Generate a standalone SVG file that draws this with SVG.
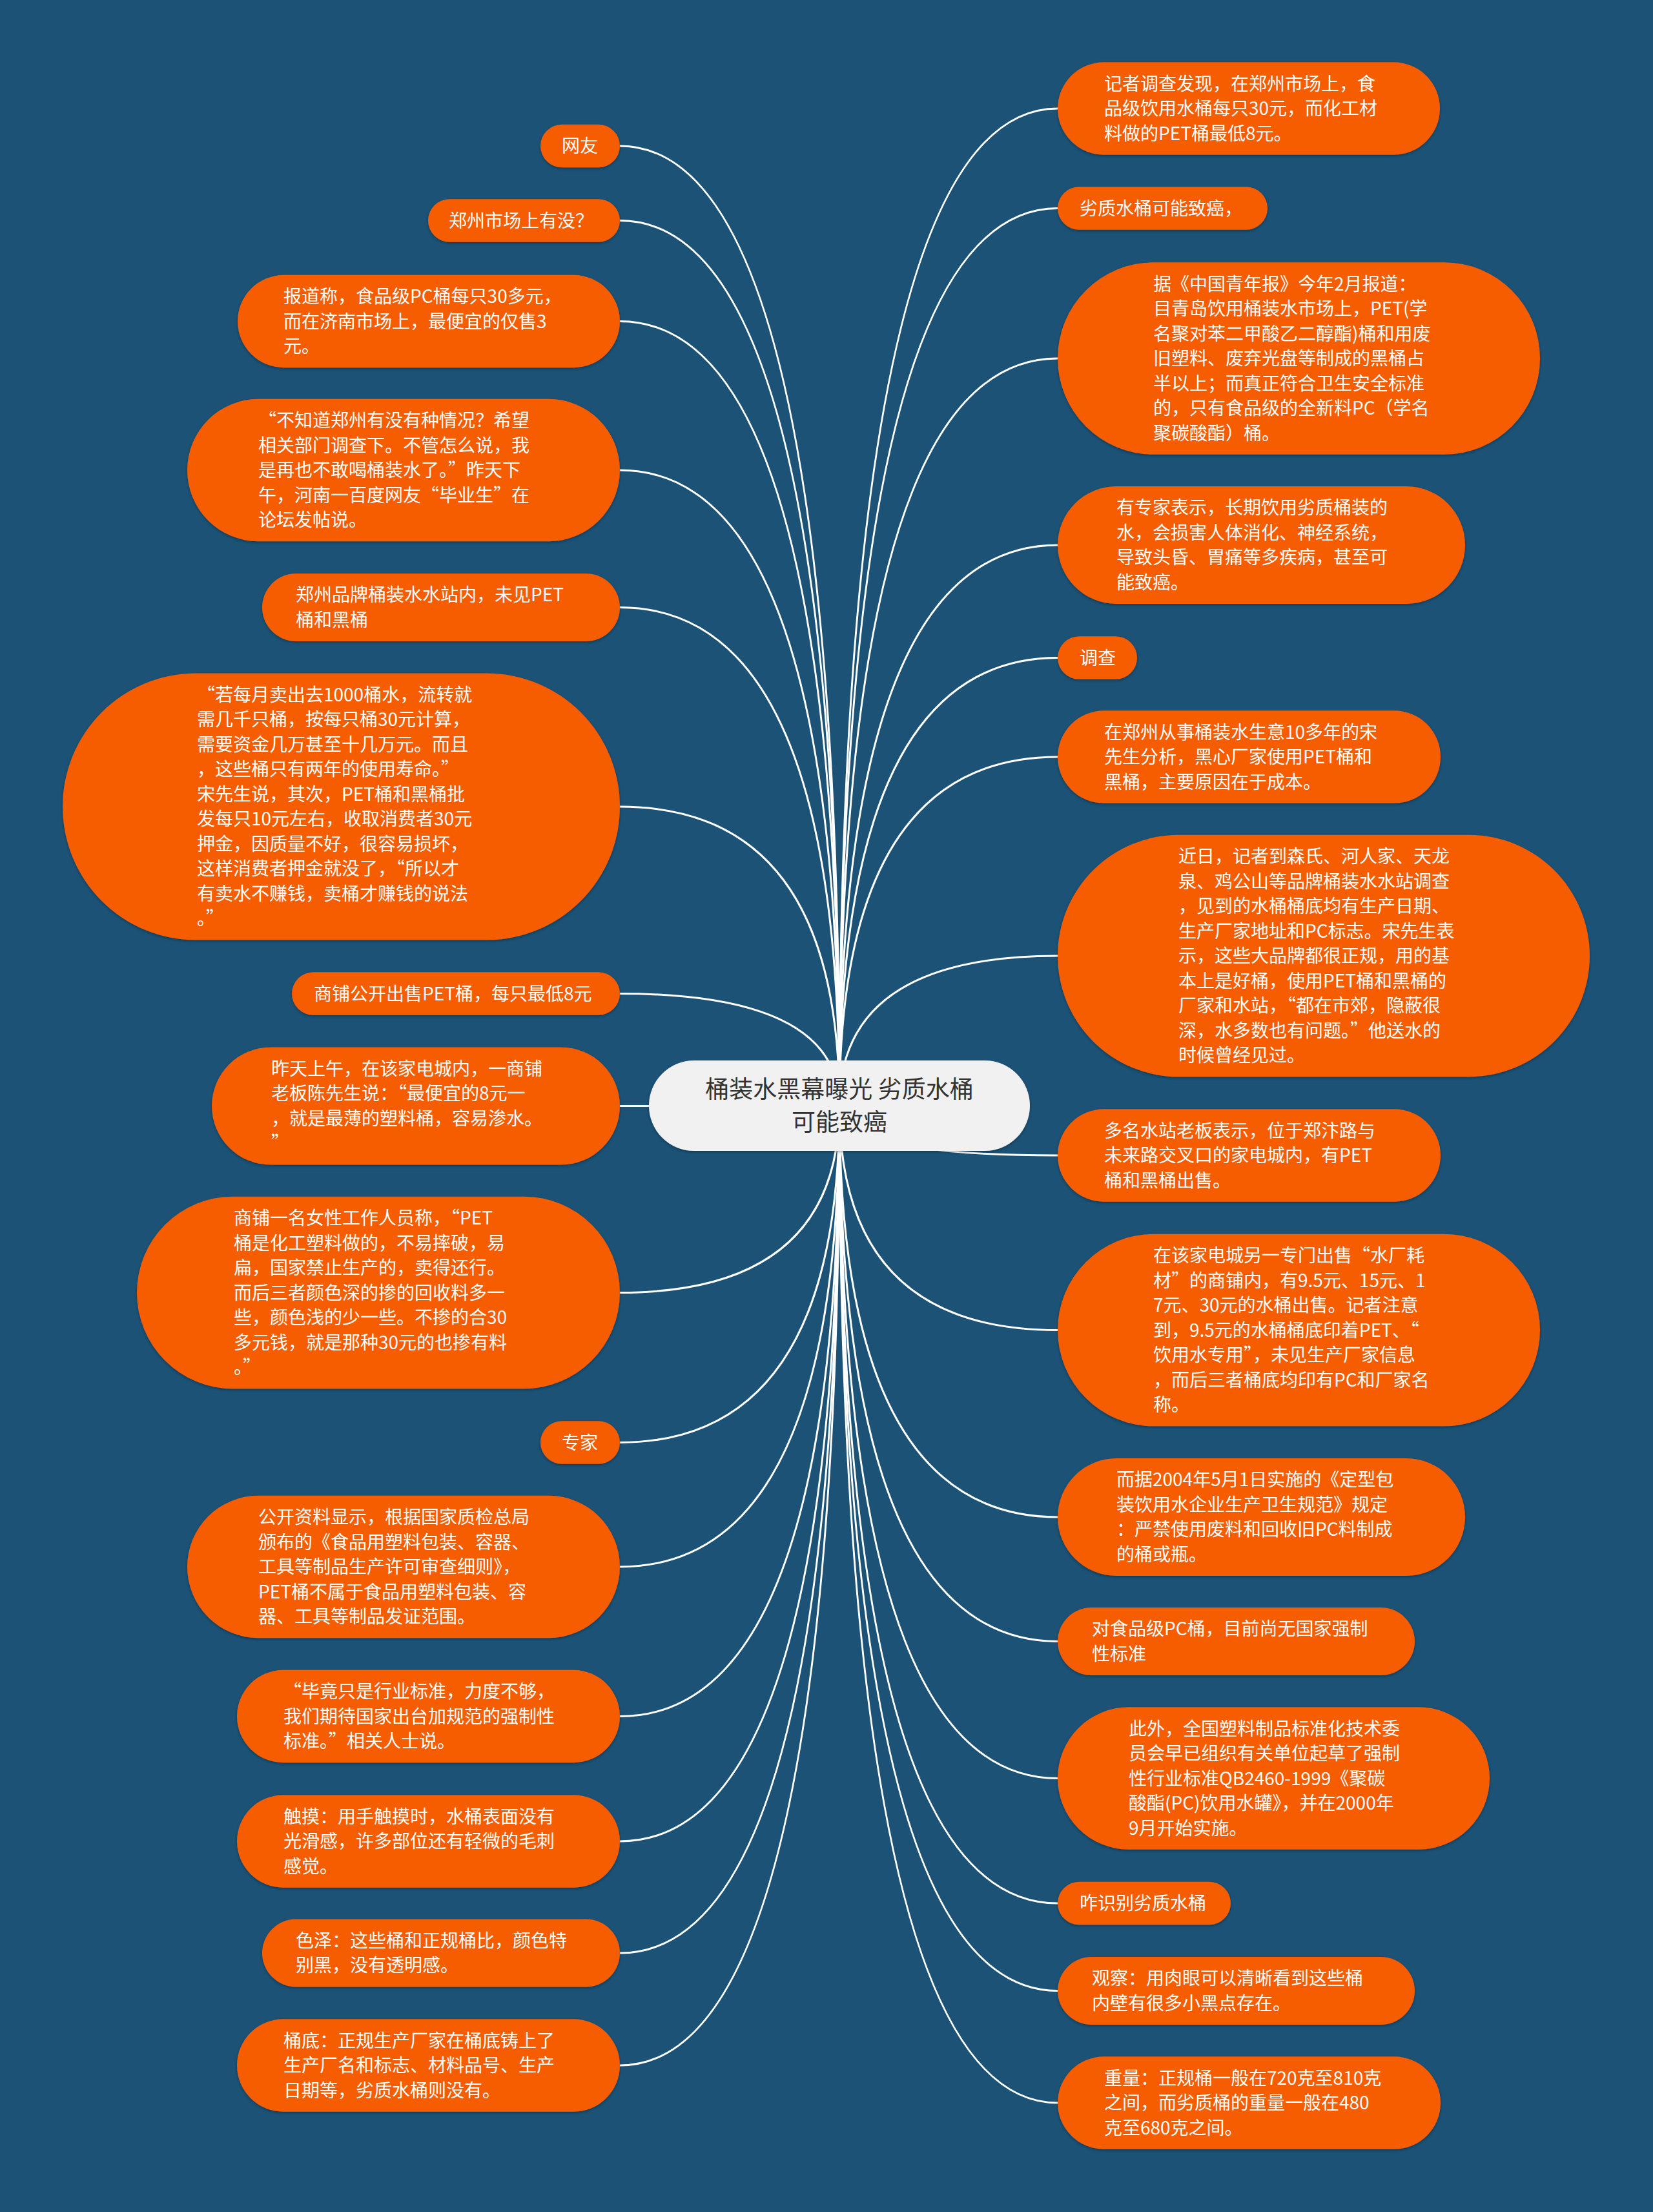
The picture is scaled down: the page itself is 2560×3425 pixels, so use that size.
<svg xmlns="http://www.w3.org/2000/svg" width="2560" height="3425" viewBox="0 0 2560 3425">
<defs>
<filter id="sh" x="-10%" y="-20%" width="120%" height="140%"><feDropShadow dx="0" dy="2" stdDeviation="2" flood-color="#000" flood-opacity="0.3"/></filter>
<style>
.n{fill:#f65c05;filter:url(#sh)}
.r{fill:#f1f1f1;filter:url(#sh)}
.t{font-family:"Noto Sans CJK SC","Microsoft YaHei",sans-serif;font-size:28px;fill:#ffffff}
.rt{font-family:"Noto Sans CJK SC","Microsoft YaHei",sans-serif;font-size:37px;fill:#333333;text-anchor:middle}
.c{fill:none;stroke:#ffffff;stroke-width:3}
</style>
</defs>
<rect width="2560" height="3425" fill="#1b5276"/>
<g id="connectors">
<path class="c" d="M1300 1712 Q1300 226 960 226"/>
<path class="c" d="M1300 1712 Q1300 341.5 960 341.5"/>
<path class="c" d="M1300 1712 Q1300 497.5 960 497.5"/>
<path class="c" d="M1300 1712 Q1300 728 960 728"/>
<path class="c" d="M1300 1712 Q1300 940.5 960 940.5"/>
<path class="c" d="M1300 1712 Q1300 1249 960 1249"/>
<path class="c" d="M1300 1712 Q1300 1538.5 960 1538.5"/>
<path class="c" d="M1300 1712 Q1300 1712.5 960 1712.5"/>
<path class="c" d="M1300 1712 Q1300 2001.5 960 2001.5"/>
<path class="c" d="M1300 1712 Q1300 2233.5 960 2233.5"/>
<path class="c" d="M1300 1712 Q1300 2426 960 2426"/>
<path class="c" d="M1300 1712 Q1300 2657.5 960 2657.5"/>
<path class="c" d="M1300 1712 Q1300 2851 960 2851"/>
<path class="c" d="M1300 1712 Q1300 3024 960 3024"/>
<path class="c" d="M1300 1712 Q1300 3198 960 3198"/>
<path class="c" d="M1300 1712 Q1300 168 1638 168"/>
<path class="c" d="M1300 1712 Q1300 322.5 1638 322.5"/>
<path class="c" d="M1300 1712 Q1300 555 1638 555"/>
<path class="c" d="M1300 1712 Q1300 844 1638 844"/>
<path class="c" d="M1300 1712 Q1300 1018.5 1638 1018.5"/>
<path class="c" d="M1300 1712 Q1300 1172 1638 1172"/>
<path class="c" d="M1300 1712 Q1300 1480 1638 1480"/>
<path class="c" d="M1300 1712 Q1300 1789 1638 1789"/>
<path class="c" d="M1300 1712 Q1300 2059.5 1638 2059.5"/>
<path class="c" d="M1300 1712 Q1300 2349 1638 2349"/>
<path class="c" d="M1300 1712 Q1300 2541.5 1638 2541.5"/>
<path class="c" d="M1300 1712 Q1300 2753.5 1638 2753.5"/>
<path class="c" d="M1300 1712 Q1300 2947 1638 2947"/>
<path class="c" d="M1300 1712 Q1300 3082.5 1638 3082.5"/>
<path class="c" d="M1300 1712 Q1300 3256 1638 3256"/>
</g>

<g id="l1"><rect class="n" x="837" y="192.75" width="123" height="66.5" rx="33.25"/>
<text class="t"><tspan x="870" y="236">网友</tspan></text></g>
<g id="l2"><rect class="n" x="663" y="308.25" width="297" height="66.5" rx="33.25"/>
<text class="t"><tspan x="695" y="351.5">郑州市场上有没？</tspan></text></g>
<g id="l3"><rect class="n" x="368" y="425.75" width="592" height="143.5" rx="71.75"/>
<text class="t"><tspan x="439" y="469">报道称，食品级PC桶每只30多元，</tspan><tspan x="439" y="507.5">而在济南市场上，最便宜的仅售3</tspan><tspan x="439" y="546">元。</tspan></text></g>
<g id="l4"><rect class="n" x="290" y="617.75" width="670" height="220.5" rx="110.25"/>
<text class="t"><tspan x="400" y="661">“不知道郑州有没有种情况？希望</tspan><tspan x="400" y="699.5">相关部门调查下。不管怎么说，我</tspan><tspan x="400" y="738">是再也不敢喝桶装水了。”昨天下</tspan><tspan x="400" y="776.5">午，河南一百度网友“毕业生”在</tspan><tspan x="400" y="815">论坛发帖说。</tspan></text></g>
<g id="l5"><rect class="n" x="406" y="888" width="554" height="105" rx="52.5"/>
<text class="t"><tspan x="458" y="931.25">郑州品牌桶装水水站内，未见PET</tspan><tspan x="458" y="969.75">桶和黑桶</tspan></text></g>
<g id="l6"><rect class="n" x="97" y="1042.5" width="863" height="413" rx="206.5"/>
<text class="t"><tspan x="305" y="1085.75">“若每月卖出去1000桶水，流转就</tspan><tspan x="305" y="1124.25">需几千只桶，按每只桶30元计算，</tspan><tspan x="305" y="1162.75">需要资金几万甚至十几万元。而且</tspan><tspan x="305" y="1201.25">，这些桶只有两年的使用寿命。”</tspan><tspan x="305" y="1239.75">宋先生说，其次，PET桶和黑桶批</tspan><tspan x="305" y="1278.25">发每只10元左右，收取消费者30元</tspan><tspan x="305" y="1316.75">押金，因质量不好，很容易损坏，</tspan><tspan x="305" y="1355.25">这样消费者押金就没了，“所以才</tspan><tspan x="305" y="1393.75">有卖水不赚钱，卖桶才赚钱的说法</tspan><tspan x="305" y="1432.25">。”</tspan></text></g>
<g id="l7"><rect class="n" x="452" y="1505.25" width="508" height="66.5" rx="33.25"/>
<text class="t"><tspan x="486" y="1548.5">商铺公开出售PET桶，每只最低8元</tspan></text></g>
<g id="l8"><rect class="n" x="328" y="1621.5" width="632" height="182" rx="91"/>
<text class="t"><tspan x="420" y="1664.75">昨天上午，在该家电城内，一商铺</tspan><tspan x="420" y="1703.25">老板陈先生说：“最便宜的8元一</tspan><tspan x="420" y="1741.75">，就是最薄的塑料桶，容易渗水。</tspan><tspan x="420" y="1780.25">”</tspan></text></g>
<g id="l9"><rect class="n" x="212" y="1852.75" width="748" height="297.5" rx="148.75"/>
<text class="t"><tspan x="362" y="1896">商铺一名女性工作人员称，“PET</tspan><tspan x="362" y="1934.5">桶是化工塑料做的，不易摔破，易</tspan><tspan x="362" y="1973">扁，国家禁止生产的，卖得还行。</tspan><tspan x="362" y="2011.5">而后三者颜色深的掺的回收料多一</tspan><tspan x="362" y="2050">些，颜色浅的少一些。不掺的合30</tspan><tspan x="362" y="2088.5">多元钱，就是那种30元的也掺有料</tspan><tspan x="362" y="2127">。”</tspan></text></g>
<g id="l10"><rect class="n" x="837" y="2200.25" width="123" height="66.5" rx="33.25"/>
<text class="t"><tspan x="870" y="2243.5">专家</tspan></text></g>
<g id="l11"><rect class="n" x="290" y="2315.75" width="670" height="220.5" rx="110.25"/>
<text class="t"><tspan x="400" y="2359">公开资料显示，根据国家质检总局</tspan><tspan x="400" y="2397.5">颁布的《食品用塑料包装、容器、</tspan><tspan x="400" y="2436">工具等制品生产许可审查细则》，</tspan><tspan x="400" y="2474.5">PET桶不属于食品用塑料包装、容</tspan><tspan x="400" y="2513">器、工具等制品发证范围。</tspan></text></g>
<g id="l12"><rect class="n" x="367" y="2585.75" width="593" height="143.5" rx="71.75"/>
<text class="t"><tspan x="439" y="2629">“毕竟只是行业标准，力度不够，</tspan><tspan x="439" y="2667.5">我们期待国家出台加规范的强制性</tspan><tspan x="439" y="2706">标准。”相关人士说。</tspan></text></g>
<g id="l13"><rect class="n" x="367" y="2779.25" width="593" height="143.5" rx="71.75"/>
<text class="t"><tspan x="439" y="2822.5">触摸：用手触摸时，水桶表面没有</tspan><tspan x="439" y="2861">光滑感，许多部位还有轻微的毛刺</tspan><tspan x="439" y="2899.5">感觉。</tspan></text></g>
<g id="l14"><rect class="n" x="406" y="2971.5" width="554" height="105" rx="52.5"/>
<text class="t"><tspan x="458" y="3014.75">色泽：这些桶和正规桶比，颜色特</tspan><tspan x="458" y="3053.25">别黑，没有透明感。</tspan></text></g>
<g id="l15"><rect class="n" x="367" y="3126.25" width="593" height="143.5" rx="71.75"/>
<text class="t"><tspan x="439" y="3169.5">桶底：正规生产厂家在桶底铸上了</tspan><tspan x="439" y="3208">生产厂名和标志、材料品号、生产</tspan><tspan x="439" y="3246.5">日期等，劣质水桶则没有。</tspan></text></g>

<g id="r1"><rect class="n" x="1638" y="96.25" width="592" height="143.5" rx="71.75"/>
<text class="t"><tspan x="1710" y="139.5">记者调查发现，在郑州市场上，食</tspan><tspan x="1710" y="178">品级饮用水桶每只30元，而化工材</tspan><tspan x="1710" y="216.5">料做的PET桶最低8元。</tspan></text></g>
<g id="r2"><rect class="n" x="1638" y="289.25" width="325" height="66.5" rx="33.25"/>
<text class="t"><tspan x="1672" y="332.5">劣质水桶可能致癌，</tspan></text></g>
<g id="r3"><rect class="n" x="1638" y="406.25" width="747" height="297.5" rx="148.75"/>
<text class="t"><tspan x="1786" y="449.5">据《中国青年报》今年2月报道：</tspan><tspan x="1786" y="488">目青岛饮用桶装水市场上，PET(学</tspan><tspan x="1786" y="526.5">名聚对苯二甲酸乙二醇酯)桶和用废</tspan><tspan x="1786" y="565">旧塑料、废弃光盘等制成的黑桶占</tspan><tspan x="1786" y="603.5">半以上；而真正符合卫生安全标准</tspan><tspan x="1786" y="642">的，只有食品级的全新料PC（学名</tspan><tspan x="1786" y="680.5">聚碳酸酯）桶。</tspan></text></g>
<g id="r4"><rect class="n" x="1638" y="753" width="631" height="182" rx="91"/>
<text class="t"><tspan x="1729" y="796.25">有专家表示，长期饮用劣质桶装的</tspan><tspan x="1729" y="834.75">水，会损害人体消化、神经系统，</tspan><tspan x="1729" y="873.25">导致头昏、胃痛等多疾病，甚至可</tspan><tspan x="1729" y="911.75">能致癌。</tspan></text></g>
<g id="r5"><rect class="n" x="1638" y="985.25" width="123" height="66.5" rx="33.25"/>
<text class="t"><tspan x="1672" y="1028.5">调查</tspan></text></g>
<g id="r6"><rect class="n" x="1638" y="1100.25" width="593" height="143.5" rx="71.75"/>
<text class="t"><tspan x="1710" y="1143.5">在郑州从事桶装水生意10多年的宋</tspan><tspan x="1710" y="1182">先生分析，黑心厂家使用PET桶和</tspan><tspan x="1710" y="1220.5">黑桶，主要原因在于成本。</tspan></text></g>
<g id="r7"><rect class="n" x="1638" y="1292.75" width="824" height="374.5" rx="187.25"/>
<text class="t"><tspan x="1825" y="1336">近日，记者到森氏、河人家、天龙</tspan><tspan x="1825" y="1374.5">泉、鸡公山等品牌桶装水水站调查</tspan><tspan x="1825" y="1413">，见到的水桶桶底均有生产日期、</tspan><tspan x="1825" y="1451.5">生产厂家地址和PC标志。宋先生表</tspan><tspan x="1825" y="1490">示，这些大品牌都很正规，用的基</tspan><tspan x="1825" y="1528.5">本上是好桶，使用PET桶和黑桶的</tspan><tspan x="1825" y="1567">厂家和水站，“都在市郊，隐蔽很</tspan><tspan x="1825" y="1605.5">深，水多数也有问题。”他送水的</tspan><tspan x="1825" y="1644">时候曾经见过。</tspan></text></g>
<g id="r8"><rect class="n" x="1638" y="1717.25" width="593" height="143.5" rx="71.75"/>
<text class="t"><tspan x="1710" y="1760.5">多名水站老板表示，位于郑汴路与</tspan><tspan x="1710" y="1799">未来路交叉口的家电城内，有PET</tspan><tspan x="1710" y="1837.5">桶和黑桶出售。</tspan></text></g>
<g id="r9"><rect class="n" x="1638" y="1910.75" width="747" height="297.5" rx="148.75"/>
<text class="t"><tspan x="1786" y="1954">在该家电城另一专门出售“水厂耗</tspan><tspan x="1786" y="1992.5">材”的商铺内，有9.5元、15元、1</tspan><tspan x="1786" y="2031">7元、30元的水桶出售。记者注意</tspan><tspan x="1786" y="2069.5">到，9.5元的水桶桶底印着PET、“</tspan><tspan x="1786" y="2108">饮用水专用”，未见生产厂家信息</tspan><tspan x="1786" y="2146.5">，而后三者桶底均印有PC和厂家名</tspan><tspan x="1786" y="2185">称。</tspan></text></g>
<g id="r10"><rect class="n" x="1638" y="2258" width="631" height="182" rx="91"/>
<text class="t"><tspan x="1729" y="2301.25">而据2004年5月1日实施的《定型包</tspan><tspan x="1729" y="2339.75">装饮用水企业生产卫生规范》规定</tspan><tspan x="1729" y="2378.25">：严禁使用废料和回收旧PC料制成</tspan><tspan x="1729" y="2416.75">的桶或瓶。</tspan></text></g>
<g id="r11"><rect class="n" x="1638" y="2489" width="553" height="105" rx="52.5"/>
<text class="t"><tspan x="1691" y="2532.25">对食品级PC桶，目前尚无国家强制</tspan><tspan x="1691" y="2570.75">性标准</tspan></text></g>
<g id="r12"><rect class="n" x="1638" y="2643.25" width="669" height="220.5" rx="110.25"/>
<text class="t"><tspan x="1748" y="2686.5">此外，全国塑料制品标准化技术委</tspan><tspan x="1748" y="2725">员会早已组织有关单位起草了强制</tspan><tspan x="1748" y="2763.5">性行业标准QB2460-1999《聚碳</tspan><tspan x="1748" y="2802">酸酯(PC)饮用水罐》，并在2000年</tspan><tspan x="1748" y="2840.5">9月开始实施。</tspan></text></g>
<g id="r13"><rect class="n" x="1638" y="2913.75" width="268" height="66.5" rx="33.25"/>
<text class="t"><tspan x="1672" y="2957">咋识别劣质水桶</tspan></text></g>
<g id="r14"><rect class="n" x="1638" y="3030" width="553" height="105" rx="52.5"/>
<text class="t"><tspan x="1691" y="3073.25">观察：用肉眼可以清晰看到这些桶</tspan><tspan x="1691" y="3111.75">内壁有很多小黑点存在。</tspan></text></g>
<g id="r15"><rect class="n" x="1638" y="3184.25" width="593" height="143.5" rx="71.75"/>
<text class="t"><tspan x="1710" y="3227.5">重量：正规桶一般在720克至810克</tspan><tspan x="1710" y="3266">之间，而劣质桶的重量一般在480</tspan><tspan x="1710" y="3304.5">克至680克之间。</tspan></text></g>

<g id="root"><rect class="r" x="1005" y="1642" width="590" height="140" rx="70"/>
<text class="rt"><tspan x="1300" y="1700">桶装水黑幕曝光 劣质水桶</tspan><tspan x="1300" y="1751">可能致癌</tspan></text></g>
</svg>
